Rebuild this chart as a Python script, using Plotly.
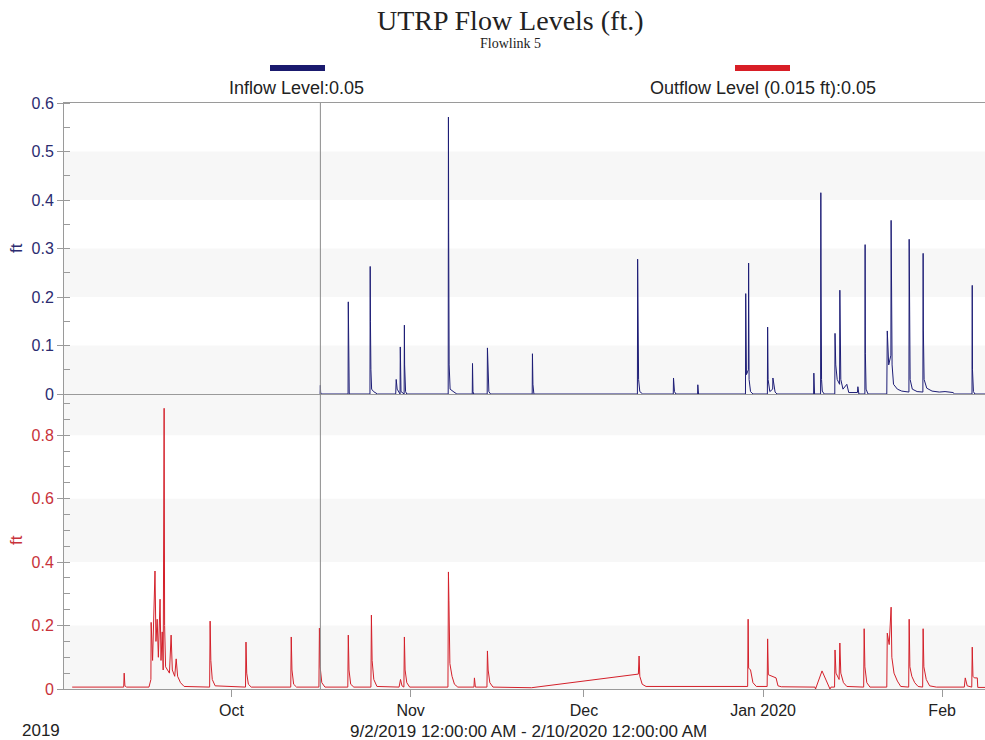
import plotly.graph_objects as go

# ---- Inflow level (ft), Flowlink 5 ----
inflow_time = [
    "2019-10-16 08:00", "2019-10-16 09:00", "2019-10-16 10:00", "2019-10-16 12:00",
    "2019-10-21 04:00", "2019-10-21 05:00", "2019-10-21 05:30", "2019-10-21 07:00", "2019-10-21 09:00",
    "2019-10-24 23:00", "2019-10-25 00:00", "2019-10-25 01:00", "2019-10-25 03:00", "2019-10-25 06:00",
    "2019-10-25 14:00", "2019-10-26 06:00",
    "2019-10-29 10:00", "2019-10-29 12:00", "2019-10-29 16:00", "2019-10-30 04:00", "2019-10-30 05:00",
    "2019-10-30 08:00", "2019-10-30 21:00", "2019-10-30 22:00", "2019-10-30 23:00", "2019-10-31 03:00",
    "2019-10-31 08:00",
    "2019-11-07 12:00", "2019-11-07 13:00", "2019-11-07 14:00", "2019-11-07 16:00", "2019-11-07 20:00",
    "2019-11-08 12:00", "2019-11-09 00:00",
    "2019-11-11 16:00", "2019-11-11 17:00", "2019-11-11 19:00", "2019-11-11 22:00",
    "2019-11-14 06:00", "2019-11-14 07:00", "2019-11-14 09:00", "2019-11-14 13:00", "2019-11-14 20:00",
    "2019-11-22 01:00", "2019-11-22 02:00", "2019-11-22 04:00", "2019-11-22 08:00",
    "2019-12-10 06:00", "2019-12-10 07:00", "2019-12-10 08:00", "2019-12-10 11:00", "2019-12-10 16:00",
    "2019-12-11 04:00",
    "2019-12-16 11:00", "2019-12-16 12:00", "2019-12-16 16:00", "2019-12-16 22:00",
    "2019-12-20 16:00", "2019-12-20 17:00", "2019-12-20 20:00",
    "2019-12-28 23:00", "2019-12-29 00:00", "2019-12-29 03:00", "2019-12-29 11:00", "2019-12-29 12:00",
    "2019-12-29 14:00", "2019-12-29 20:00", "2019-12-30 06:00",
    "2020-01-01 18:00", "2020-01-01 19:00", "2020-01-01 21:00", "2020-01-02 04:00", "2020-01-02 16:00",
    "2020-01-02 17:00", "2020-01-02 20:00", "2020-01-03 02:00", "2020-01-03 10:00",
    "2020-01-09 18:00", "2020-01-09 19:00", "2020-01-09 22:00",
    "2020-01-10 23:00", "2020-01-11 00:00", "2020-01-11 01:00", "2020-01-11 03:00", "2020-01-11 06:00",
    "2020-01-11 14:00",
    "2020-01-13 10:00", "2020-01-13 11:00", "2020-01-13 14:00", "2020-01-13 20:00", "2020-01-14 06:00",
    "2020-01-14 07:00", "2020-01-14 08:00", "2020-01-14 11:00", "2020-01-14 20:00", "2020-01-15 12:00",
    "2020-01-15 20:00", "2020-01-17 08:00", "2020-01-17 10:00", "2020-01-17 14:00",
    "2020-01-18 15:00", "2020-01-18 16:00", "2020-01-18 17:00", "2020-01-18 20:00", "2020-01-19 04:00",
    "2020-01-22 10:00", "2020-01-22 12:00", "2020-01-22 18:00", "2020-01-23 03:00", "2020-01-23 04:00",
    "2020-01-23 05:00", "2020-01-23 08:00", "2020-01-23 14:00", "2020-01-24 06:00", "2020-01-25 00:00",
    "2020-01-25 18:00", "2020-01-26 06:00", "2020-01-26 07:00", "2020-01-26 08:00", "2020-01-26 11:00",
    "2020-01-26 20:00", "2020-01-27 16:00", "2020-01-28 16:00", "2020-01-28 17:00", "2020-01-28 18:00",
    "2020-01-28 21:00", "2020-01-29 08:00", "2020-01-30 06:00", "2020-01-31 12:00", "2020-02-01 12:00",
    "2020-02-02 21:00", "2020-02-03 04:00",
    "2020-02-06 04:00", "2020-02-06 05:00", "2020-02-06 06:00", "2020-02-06 10:00", "2020-02-06 16:00",
    "2020-02-08 10:00",
]
inflow_level = [
    0, 0.018, 0.004, 0,
    0, 0.19, 0.13, 0.01, 0,
    0, 0.263, 0.15, 0.05, 0.01,
    0.005, 0,
    0, 0.03, 0.01, 0, 0.097,
    0.005, 0, 0.142, 0.06, 0.005,
    0,
    0, 0.571, 0.333, 0.06, 0.01,
    0.004, 0,
    0, 0.063, 0.005, 0,
    0, 0.095, 0.04, 0.005, 0,
    0, 0.083, 0.02, 0,
    0, 0.278, 0.111, 0.03, 0.005,
    0,
    0, 0.033, 0.005, 0,
    0, 0.019, 0,
    0, 0.207, 0.04, 0.05, 0.27,
    0.03, 0.005, 0,
    0, 0.138, 0.03, 0.005, 0.01,
    0.033, 0.025, 0.004, 0,
    0, 0.043, 0,
    0, 0.415, 0.235, 0.03, 0.006,
    0,
    0, 0.125, 0.06, 0.03, 0.02,
    0.214, 0.1, 0.03, 0.01, 0.02,
    0.003, 0.003, 0.015, 0,
    0, 0.308, 0.084, 0.01, 0,
    0, 0.13, 0.06, 0.08, 0.358,
    0.28, 0.06, 0.02, 0.01, 0.006,
    0.004, 0.004, 0.319, 0.2, 0.03,
    0.01, 0.005, 0.004, 0.29, 0.13,
    0.03, 0.012, 0.006, 0.004, 0.005,
    0.003, 0,
    0, 0.224, 0.05, 0.005, 0,
    0,
]

# ---- Outflow level (ft) ----
outflow_time = [
    "2019-09-03 10:00", "2019-09-08 00:00", "2019-09-12 08:00", "2019-09-12 10:00", "2019-09-12 13:00",
    "2019-09-12 20:00", "2019-09-16 17:00", "2019-09-17 01:00", "2019-09-17 02:00", "2019-09-17 08:00",
    "2019-09-17 18:00", "2019-09-17 22:00", "2019-09-18 03:00", "2019-09-18 08:00", "2019-09-18 15:00",
    "2019-09-18 19:00", "2019-09-19 00:00", "2019-09-19 04:00", "2019-09-19 08:00", "2019-09-19 10:00",
    "2019-09-19 14:00", "2019-09-20 06:00", "2019-09-20 13:00", "2019-09-20 18:00", "2019-09-21 04:00",
    "2019-09-21 10:00", "2019-09-21 16:00", "2019-09-22 04:00", "2019-09-22 19:00",
    "2019-09-27 05:00", "2019-09-27 07:00", "2019-09-27 10:00", "2019-09-27 16:00", "2019-09-28 04:00",
    "2019-10-03 10:00", "2019-10-03 12:00", "2019-10-03 15:00", "2019-10-03 22:00", "2019-10-04 10:00",
    "2019-10-11 06:00", "2019-10-11 08:00", "2019-10-11 11:00", "2019-10-11 18:00", "2019-10-12 06:00",
    "2019-10-16 03:00", "2019-10-16 05:00", "2019-10-16 08:00", "2019-10-16 15:00", "2019-10-17 04:00",
    "2019-10-21 03:00", "2019-10-21 05:00", "2019-10-21 08:00", "2019-10-21 15:00", "2019-10-22 04:00",
    "2019-10-25 03:00", "2019-10-25 05:00", "2019-10-25 08:00", "2019-10-25 15:00", "2019-10-26 04:00",
    "2019-10-30 00:00", "2019-10-30 06:00", "2019-10-30 12:00", "2019-10-30 20:00", "2019-10-30 22:00",
    "2019-10-31 01:00", "2019-10-31 08:00", "2019-10-31 20:00",
    "2019-11-07 11:00", "2019-11-07 13:00", "2019-11-07 15:00", "2019-11-07 19:00", "2019-11-08 04:00",
    "2019-11-08 14:00", "2019-11-09 04:00",
    "2019-11-11 23:00", "2019-11-12 01:00", "2019-11-12 05:00",
    "2019-11-14 05:00", "2019-11-14 07:00", "2019-11-14 10:00", "2019-11-14 17:00", "2019-11-15 06:00",
    "2019-11-21 22:00",
    "2019-12-10 10:00", "2019-12-10 13:00", "2019-12-10 16:00", "2019-12-11 02:00", "2019-12-11 18:00",
    "2019-12-29 08:00", "2019-12-29 10:00", "2019-12-29 12:00", "2019-12-29 20:00", "2019-12-30 06:00",
    "2019-12-30 20:00",
    "2020-01-01 17:00", "2020-01-01 19:00", "2020-01-01 22:00", "2020-01-02 12:00", "2020-01-03 06:00",
    "2020-01-03 14:00", "2020-01-04 04:00",
    "2020-01-10 00:00", "2020-01-10 02:00", "2020-01-11 05:00", "2020-01-12 14:00", "2020-01-12 18:00",
    "2020-01-13 09:00", "2020-01-13 11:00", "2020-01-13 15:00", "2020-01-14 04:00", "2020-01-14 07:00",
    "2020-01-14 11:00", "2020-01-14 22:00", "2020-01-15 12:00",
    "2020-01-18 10:00", "2020-01-18 12:00", "2020-01-18 15:00", "2020-01-18 23:00", "2020-01-19 12:00",
    "2020-01-22 10:00", "2020-01-22 12:00", "2020-01-22 20:00", "2020-01-23 04:00", "2020-01-23 07:00",
    "2020-01-23 16:00", "2020-01-24 06:00", "2020-01-24 20:00",
    "2020-01-26 05:00", "2020-01-26 07:00", "2020-01-26 10:00", "2020-01-26 18:00", "2020-01-27 06:00",
    "2020-01-27 20:00",
    "2020-01-28 15:00", "2020-01-28 17:00", "2020-01-28 20:00", "2020-01-29 06:00", "2020-01-29 20:00",
    "2020-01-31 00:00",
    "2020-02-04 20:00", "2020-02-05 00:00", "2020-02-05 08:00", "2020-02-06 03:00", "2020-02-06 05:00",
    "2020-02-06 08:00", "2020-02-06 14:00", "2020-02-07 02:00", "2020-02-07 04:00", "2020-02-08 10:00",
]
outflow_level = [
    0.006, 0.006, 0.006, 0.05, 0.01,
    0.006, 0.006, 0.03, 0.21, 0.09,
    0.372, 0.15, 0.22, 0.1, 0.283,
    0.09, 0.18, 0.06, 0.885, 0.2,
    0.07, 0.05, 0.17, 0.06, 0.04,
    0.095, 0.04, 0.02, 0.008,
    0.006, 0.214, 0.09, 0.03, 0.01,
    0.006, 0.148, 0.05, 0.015, 0.006,
    0.006, 0.164, 0.06, 0.015, 0.006,
    0.006, 0.192, 0.07, 0.02, 0.006,
    0.006, 0.17, 0.06, 0.015, 0.006,
    0.006, 0.233, 0.09, 0.03, 0.008,
    0.006, 0.03, 0.01, 0.006, 0.164,
    0.06, 0.02, 0.006,
    0.006, 0.369, 0.28, 0.08, 0.04,
    0.015, 0.006,
    0.006, 0.035, 0.006,
    0.006, 0.12, 0.06, 0.02, 0.006,
    0.004,
    0.047, 0.104, 0.04, 0.015, 0.008,
    0.008, 0.22, 0.066, 0.06, 0.02,
    0.008,
    0.008, 0.158, 0.045, 0.04, 0.035,
    0.01, 0.007,
    0.006, 0.0, 0.057, 0.0, 0.006,
    0.006, 0.123, 0.05, 0.03, 0.145,
    0.05, 0.02, 0.008,
    0.006, 0.19, 0.07, 0.02, 0.006,
    0.006, 0.176, 0.14, 0.258, 0.1,
    0.05, 0.025, 0.008,
    0.006, 0.22, 0.07, 0.04, 0.02,
    0.008,
    0.006, 0.19, 0.07, 0.03, 0.01,
    0.006,
    0.006, 0.035, 0.01, 0.006, 0.132,
    0.04, 0.035, 0.035, 0.005, 0.005,
]

# ---- Axis labels ----
month_ticks = ["2019-10-01", "2019-11-01", "2019-12-01", "2020-01-01", "2020-02-01"]
month_labels = ["Oct", "Nov", "Dec", "Jan 2020", "Feb"]
inflow_ticks = [0, 0.1, 0.2, 0.3, 0.4, 0.5, 0.6]
outflow_ticks = [0, 0.2, 0.4, 0.6, 0.8]
inflow_bands = [(0, 0.1), (0.2, 0.3), (0.4, 0.5)]
outflow_bands = [(0, 0.2), (0.4, 0.6), (0.8, 0.93)]
cursor_time = "2019-10-16 09:00"

NAVY = "#1d1d76"
RED = "#d4202a"
NAVY_TXT = "#2b2b70"
RED_TXT = "#c8323a"
AXIS = "#9a9a9a"
SANS = "Liberation Sans, Arial, sans-serif"
SERIF = "Liberation Serif, Times New Roman, serif"

W, H = 985, 740
ML, MR, MT, MB = 64, 0, 103, 51
PW = W - ML - MR
PH = H - MT - MB


def px(x):
    return (x - ML) / PW


def py(y):
    return (H - MB - y) / PH


split = 295 / PH  # bottom panel share of the plot height

fig = go.Figure()
fig.add_trace(go.Scatter(x=inflow_time, y=inflow_level, mode="lines",
                         line=dict(color=NAVY, width=1), xaxis="x2", yaxis="y2",
                         name="Inflow Level", showlegend=False))
fig.add_trace(go.Scatter(x=outflow_time, y=outflow_level, mode="lines",
                         line=dict(color=RED, width=1), xaxis="x", yaxis="y",
                         name="Outflow Level (0.015 ft)", showlegend=False))

shapes = []
for y0, y1 in inflow_bands:
    shapes.append(dict(type="rect", xref="paper", yref="y2", x0=0, x1=1, y0=y0, y1=y1,
                       fillcolor="#f7f7f7", line=dict(width=0), layer="below"))
for y0, y1 in outflow_bands:
    shapes.append(dict(type="rect", xref="paper", yref="y", x0=0, x1=1, y0=y0, y1=y1,
                       fillcolor="#f7f7f7", line=dict(width=0), layer="below"))
# cursor line through both panels
shapes.append(dict(type="line", xref="x", yref="paper", x0=cursor_time, x1=cursor_time,
                   y0=0, y1=1, line=dict(color="#8a8a8a", width=1)))
# legend swatches
shapes.append(dict(type="rect", xref="paper", yref="paper", x0=px(270), x1=px(325),
                   y0=py(71), y1=py(65), fillcolor="#1a1a6e", line=dict(width=0)))
shapes.append(dict(type="rect", xref="paper", yref="paper", x0=px(735), x1=px(790),
                   y0=py(71), y1=py(65), fillcolor="#d81e26", line=dict(width=0)))


def label(text, x, y, family=SANS, size=16, color="#222", angle=0):
    return dict(text=text, x=px(x), y=py(y), xref="paper", yref="paper",
                xanchor="center", yanchor="middle", textangle=angle, showarrow=False,
                font=dict(family=family, size=size, color=color))


annotations = [
    label("UTRP Flow Levels (ft.)", 510, 21, SERIF, 28),
    label("Flowlink 5", 510, 44, SERIF, 14),
    label("Inflow Level:0.05", 296, 88, size=18),
    label("Outflow Level (0.015 ft):0.05", 763, 88, size=18),
    label("ft", 16, 248, size=17, color=NAVY_TXT, angle=-90),
    label("ft", 16, 540, size=17, color=RED_TXT, angle=-90),
    label("2019", 41, 730, size=17),
    label("9/2/2019 12:00:00 AM - 2/10/2020 12:00:00 AM", 528, 731, size=17),
]

x_range = ["2019-09-02 00:00", "2020-02-08 10:00"]

fig.update_layout(
    width=W, height=H,
    margin=dict(l=ML, r=MR, t=MT, b=MB),
    paper_bgcolor="white", plot_bgcolor="white",
    shapes=shapes, annotations=annotations,
    xaxis=dict(domain=[0, 1], anchor="y", range=x_range, type="date",
               tickvals=month_ticks, ticktext=month_labels,
               ticks="outside", ticklen=7, tickcolor=AXIS, showgrid=False,
               showline=True, linecolor=AXIS, linewidth=1, zeroline=False,
               tickfont=dict(family=SANS, size=16, color="#222")),
    xaxis2=dict(domain=[0, 1], anchor="y2", matches="x", type="date",
                showticklabels=False, ticks="", showgrid=False,
                showline=True, mirror=True, linecolor=AXIS, linewidth=1, zeroline=False),
    yaxis=dict(domain=[0, split], anchor="x", range=[0, 0.93],
               tickvals=outflow_ticks, ticks="outside", ticklen=6, tickcolor=AXIS,
               showline=True, linecolor=AXIS, showgrid=False, zeroline=False,
               tickfont=dict(family=SANS, size=16, color=RED_TXT),
               minor=dict(dtick=0.05, tick0=0, ticks="inside", ticklen=6,
                          tickcolor=AXIS, showgrid=False)),
    yaxis2=dict(domain=[split, 1], anchor="x2", range=[0, 0.6],
                tickvals=inflow_ticks, ticks="outside", ticklen=6, tickcolor=AXIS,
                showline=True, linecolor=AXIS, showgrid=False, zeroline=False,
                tickfont=dict(family=SANS, size=16, color=NAVY_TXT),
                minor=dict(dtick=0.05, tick0=0, ticks="inside", ticklen=6,
                           tickcolor=AXIS, showgrid=False)),
)

fig.write_html("out.html")
